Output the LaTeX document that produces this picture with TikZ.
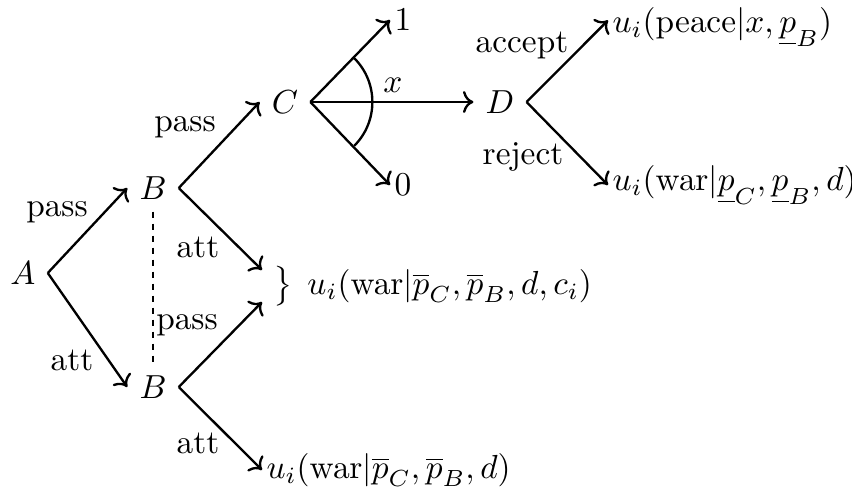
\documentclass[tikz,border=0pt]{standalone}
\usetikzlibrary{arrows.meta}
\begin{document}
\begin{tikzpicture}[x=0.3pt,y=-0.3pt, line width=0.7pt,
  edge/.style={->},
  lab/.style={inner sep=0pt},
  pay/.style={anchor=west,inner sep=1pt}]
\useasboundingbox (0,0) rectangle (852,493);
% decision nodes
\node (A) at (23,273) {$A$};
\node (B1) at (153,188) {$B$};
\node (B2) at (153,387) {$B$};
\node (C) at (285,102) {$C$};
\node (D) at (500,102) {$D$};
% terminal nodes
\node[pay] (one) at (390,20) {$1$};
\node[pay] (zero) at (390,185) {$0$};
\node[pay] (peace) at (608,27) {$u_i(\mathrm{peace}|x,\underline{p}_B)$};
\node[pay] (warD) at (608,185) {$u_i(\mathrm{war}|\underline{p}_C,\underline{p}_B,d)$};
\node[anchor=west,inner sep=3pt] (warC) at (262,286) {$\big\}\;\, u_i(\mathrm{war}|\overline{p}_C,\overline{p}_B,d,c_i)$};
\node[pay] (warB) at (262,470) {$u_i(\mathrm{war}|\overline{p}_C,\overline{p}_B,d)$};
% edges
\draw[edge] (A.east) -- (B1.west);
\draw[edge] (A.east) -- (B2.west);
\draw[edge] (B1.east) -- (C.west);
\draw[edge] (B1.east) -- ([yshift=4.8pt]warC.west);
\draw[edge] (B2.east) -- ([yshift=-4.8pt]warC.west);
\draw[edge] (B2.east) -- (warB.west);
\draw[edge] (C.east) -- (one.west);
\draw[edge] (C.east) -- (zero.west);
\draw[edge] (C.east) -- (D.west);
\draw[edge] (D.east) -- ([yshift=2pt]peace.west);
\draw[edge] (D.east) -- (warD.west);
\draw[dash pattern=on 1.8pt off 1.8pt] (B1.south) -- (B2.north);
\draw (C.east) ++(-45:62) arc[start angle=-45,end angle=45,radius=62];
% labels
\node[lab] (l1) at (57,212) {pass};
\node[lab] (l2) at (72,360) {att};
\node[lab] (l3) at (185,127) {pass};
\node[lab] (l4) at (198,247) {att};
\node[lab] (l5) at (187,325) {pass};
\node[lab] (l6) at (198,443) {att};
\node[lab] (l7) at (522,45) {accept};
\node[lab] (l8) at (523,157) {reject};
\node[lab] (l9) at (393,85) {$x$};
\end{tikzpicture}
\end{document}
